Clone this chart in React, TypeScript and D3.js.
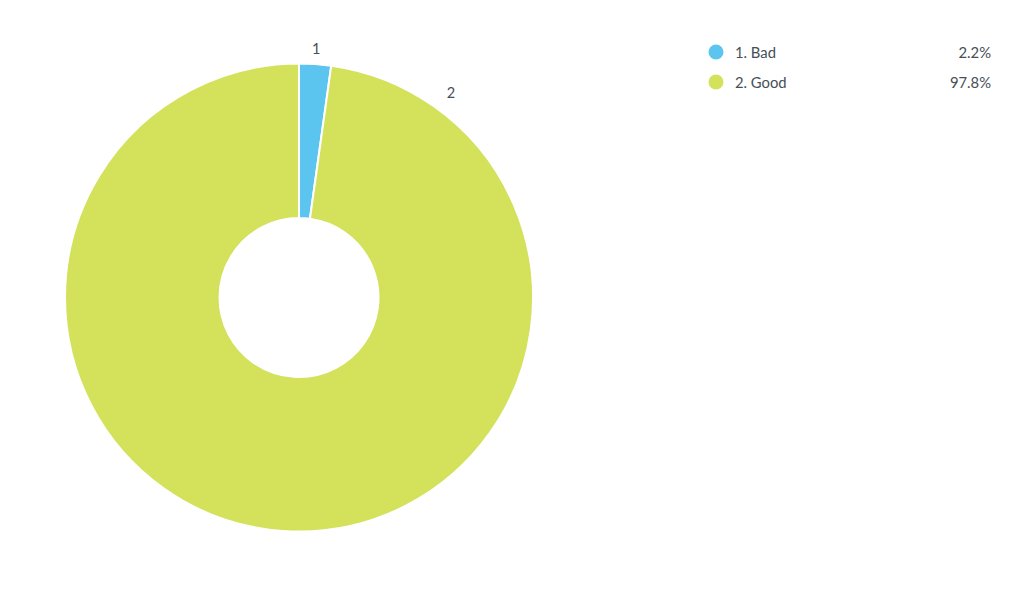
import React from "react";
import * as d3 from "d3";

const categories = ["1. Bad", "2. Good"];
const shortLabels = ["1", "2"];
const values = [2.2, 97.8];
const colors = ["#5bc5ef", "#d3e15b"];

export default function App() {
  const W = 1024, H = 597;
  const cx = 299, cy = 297.5, outerR = 234, innerR = 79.5;
  const pie = d3.pie<number>().sort(null).value((d) => d)(values);
  const arc = d3.arc<d3.PieArcDatum<number>>().innerRadius(innerR).outerRadius(outerR);
  const total = d3.sum(values);
  const fmt = (v: number) => d3.format(".1f")((v / total) * 100) + "%";
  const labelPos = (d: d3.PieArcDatum<number>, i: number) => {
    const ang = i === 0 ? (d.startAngle + d.endAngle) / 2 : d.startAngle + 0.5;
    const r = i === 0 ? 250 : 255;
    return [cx + r * Math.sin(ang), cy - r * Math.cos(ang)];
  };
  return (
    <svg width={W} height={H} style={{ position: "absolute", left: 0, top: 0, fontFamily: "Lato, 'Open Sans', sans-serif" }}>
      <rect width={W} height={H} fill="#fff" />
      <g transform={`translate(${cx},${cy})`}>
        {pie.map((d, i) => (
          <path key={i} d={arc(d) || ""} fill={colors[i]} stroke="#fff" strokeWidth={2} />
        ))}
      </g>
      {pie.map((d, i) => {
        const [x, y] = labelPos(d, i);
        return (
          <text key={i} x={x} y={y} textAnchor="middle" dominantBaseline="central" fontSize={14.5} fill="#464e56">
            {shortLabels[i]}
          </text>
        );
      })}
      {categories.map((c, i) => (
        <g key={c} transform={`translate(0,${52 + i * 30})`}>
          <circle cx={716} cy={0} r={7.5} fill={colors[i]} />
          <text x={735} y={0} dominantBaseline="central" fontSize={14.8} fill="#464e56">{c}</text>
          <text x={991} y={0} textAnchor="end" dominantBaseline="central" fontSize={14.8} fill="#464e56">{fmt(values[i])}</text>
        </g>
      ))}
    </svg>
  );
}
